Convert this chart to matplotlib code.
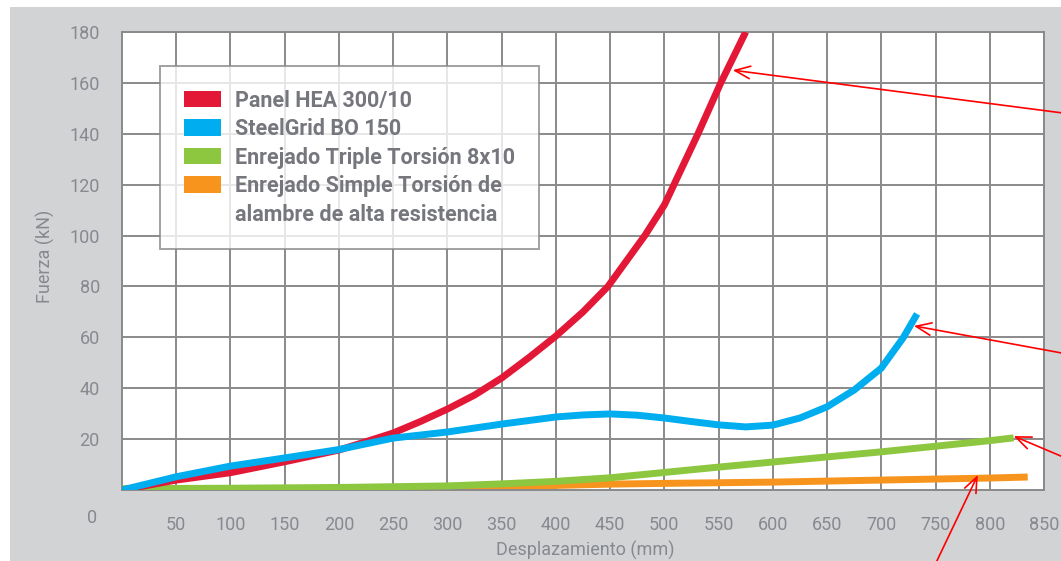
import matplotlib
matplotlib.use("Agg")
import matplotlib.pyplot as plt
from matplotlib.patches import Rectangle, Patch

plt.rcParams['font.family'] = ['Roboto', 'DejaVu Sans']

# Curves (displacement mm, force kN)
x_hea = [0, 50, 100, 150, 200, 225, 250, 275, 300, 325, 350, 375, 400, 425, 448, 465, 482, 500, 531, 552, 575]
y_hea = [0, 3.9, 6.8, 11.1, 15.7, 19.0, 22.4, 26.9, 31.8, 37.3, 44.0, 52.0, 60.5, 70.0, 80.0, 90.0, 100.0, 112.0, 140.0, 160.0, 180.0]

x_sg = [0, 50, 100, 150, 200, 250, 300, 350, 400, 425, 450, 475, 500, 525, 550, 575, 600, 625, 650, 675, 700, 720, 733]
y_sg = [0, 5.2, 9.4, 12.6, 15.9, 20.4, 22.8, 25.9, 28.7, 29.5, 29.9, 29.4, 28.3, 26.9, 25.6, 24.8, 25.5, 28.3, 32.7, 39.3, 47.9, 59.7, 69.2]

x_tt = [0, 100, 200, 300, 350, 400, 450, 500, 550, 600, 650, 700, 750, 800, 822]
y_tt = [0.5, 0.7, 1.0, 1.6, 2.4, 3.4, 4.8, 6.9, 9.0, 11.0, 13.0, 15.0, 17.2, 19.4, 20.5]

x_st = [0, 100, 200, 250, 300, 350, 400, 450, 500, 600, 700, 800, 835]
y_st = [0, 0.1, 0.2, 0.3, 0.5, 0.8, 1.8, 2.3, 2.6, 3.1, 3.9, 4.7, 5.1]

labels = ['Panel HEA 300/10', 'SteelGrid BO 150', 'Enrejado Triple Torsión 8x10',
          'Enrejado Simple Torsión de', 'alambre de alta resistencia']
colors = ['#e31837', '#00aeef', '#8dc63f', '#f7941d', 'none']

xticks = [50, 100, 150, 200, 250, 300, 350, 400, 450, 500, 550, 600, 650, 700, 750, 800, 850]
yticks = [20, 40, 60, 80, 100, 120, 140, 160, 180]

# arrow tips (data) and tails (figure fraction)
tips = [(563, 165), (730, 64.5), (822, 21.2), (789, 5.9)]
tails = [(1.0, 0.799), (1.0, 0.371), (1.0, 0.187), (0.883, 0.0)]

fig = plt.figure(figsize=(10.61, 5.61), dpi=100, facecolor='white')
fig.add_artist(Rectangle((10/1061, 0), 1 - 10/1061, 1 - 7/561, transform=fig.transFigure,
                         facecolor='#d1d3d4', edgecolor='none', zorder=-10))
ax = fig.add_axes([122/1061, 1 - 490/561, 922/1061, 458/561])
ax.set_facecolor('white')

ax.plot(x_tt, y_tt, color=colors[2], lw=5, solid_capstyle='butt', solid_joinstyle='round', zorder=3)
ax.plot(x_st, y_st, color=colors[3], lw=5, solid_capstyle='butt', solid_joinstyle='round', zorder=2)
ax.plot(x_hea, y_hea, color=colors[0], lw=5, solid_capstyle='butt', solid_joinstyle='round', zorder=4)
ax.plot(x_sg, y_sg, color=colors[1], lw=5, solid_capstyle='butt', solid_joinstyle='round', zorder=5)

ax.set_xlim(0, 850)
ax.set_ylim(0, 180)
ax.set_xticks(xticks)
ax.set_yticks(yticks)
tick_color = '#878991'
ax.tick_params(length=0, labelsize=13, labelcolor=tick_color)
ax.tick_params(axis='x', pad=19)
ax.tick_params(axis='y', pad=16)
ax.grid(True, color='#8a8a8a', lw=1.4)
ax.set_axisbelow(True)
for s in ax.spines.values():
    s.set_color('#8a8a8a')
    s.set_linewidth(1.4)

ax.text(-0.032, -0.062, '0', transform=ax.transAxes, ha='center', va='center',
        fontsize=13, color=tick_color)
ax.set_xlabel('Desplazamiento (mm)', fontsize=13, color=tick_color)
ax.set_ylabel('Fuerza (kN)', fontsize=13, color=tick_color)
ax.xaxis.set_label_coords(0.502, -0.112)
ax.yaxis.set_label_coords(-0.073, 0.51)

handles = [Patch(facecolor=c, edgecolor='none') for c in colors]
leg = ax.legend(handles, labels, loc='upper left', bbox_to_anchor=(38/922, 1 - 34/458),
                prop={'weight': 'bold', 'size': 15.5}, frameon=True, fancybox=False,
                handlelength=1.75, handleheight=0.8, handletextpad=0.65, labelspacing=0.3,
                borderpad=1.1, borderaxespad=0)
leg.get_frame().set_edgecolor('#8a8a8a')
leg.get_frame().set_linewidth(1.4)
for t in leg.get_texts():
    t.set_color('#75777d')
leg.set_zorder(6)

for tip, tail in zip(tips, tails):
    ax.annotate('', xy=tip, xycoords='data', xytext=tail, textcoords='figure fraction',
                arrowprops=dict(arrowstyle='->,head_length=1.1,head_width=0.45', color='red',
                                lw=1.2, shrinkA=0, shrinkB=0),
                annotation_clip=False, zorder=7)

fig.savefig('out.png', dpi=100)
